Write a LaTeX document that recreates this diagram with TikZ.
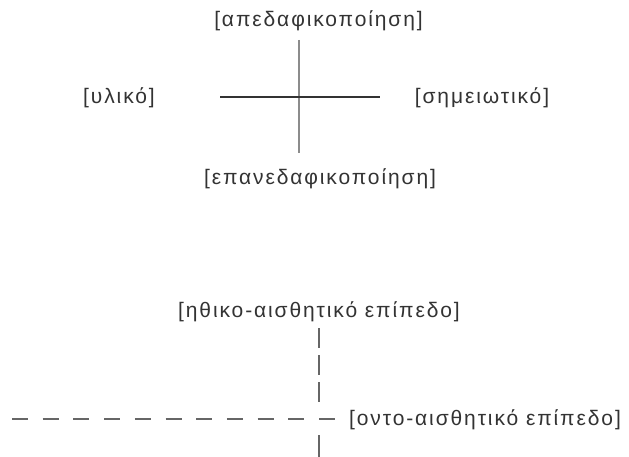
\documentclass[tikz,border=0pt]{standalone}
\usepackage{fontspec}
\setmainfont[LetterSpace=9]{Liberation Sans}
\begin{document}
\begin{tikzpicture}[x=1bp,y=-1bp,
  lbl/.style={inner sep=0pt,text=black!80,font=\fontsize{21bp}{24bp}\selectfont},
  solidv/.style={draw=black!45,line width=1.1bp},
  solidh/.style={draw=black!80,line width=1.1bp},
  dashh/.style={draw=black!60,line width=1.6bp,dash pattern=on 16bp off 14.7bp},
  dashv/.style={draw=black!60,line width=1.6bp,dash pattern=on 20bp off 7bp}]
\useasboundingbox[fill=white] (0,0) rectangle (629,457);
% upper cross
\node[lbl] (apo) at (318.5,21) {[απεδαφικοποίηση]};
\node[lbl] (yl) at (119,98) {[υλικό]};
\node[lbl] (sim) at (482,98) {[σημειωτικό]};
\node[lbl] (epa) at (320,179) {[επανεδαφικοποίηση]};
\coordinate (vt) at (299,40);
\coordinate (vb) at (299,153);
\coordinate (hl) at (220,97);
\coordinate (hr) at (380,97);
\draw[solidv] (vt) -- (vb);
\draw[solidh] (hl) -- (hr);
% lower cross
\node[lbl] (eth) at (319,312) {[ηθικο-αισθητικό επίπεδο]};
\node[lbl,anchor=west] (ont) at (349,420) {[οντο-αισθητικό επίπεδο]};
\coordinate (dvt) at (319,328);
\coordinate (dvb) at (319,403);
\coordinate (dl) at (12,419);
\coordinate (dr) at (335,419);
\coordinate (bt) at (319,435);
\coordinate (bb) at (319,457);
\draw[dashv] (dvt) -- (dvb);
\draw[dashh] (dl) -- (dr);
\draw[draw=black!60,line width=1.6bp] (bt) -- (bb);
\end{tikzpicture}
\end{document}
